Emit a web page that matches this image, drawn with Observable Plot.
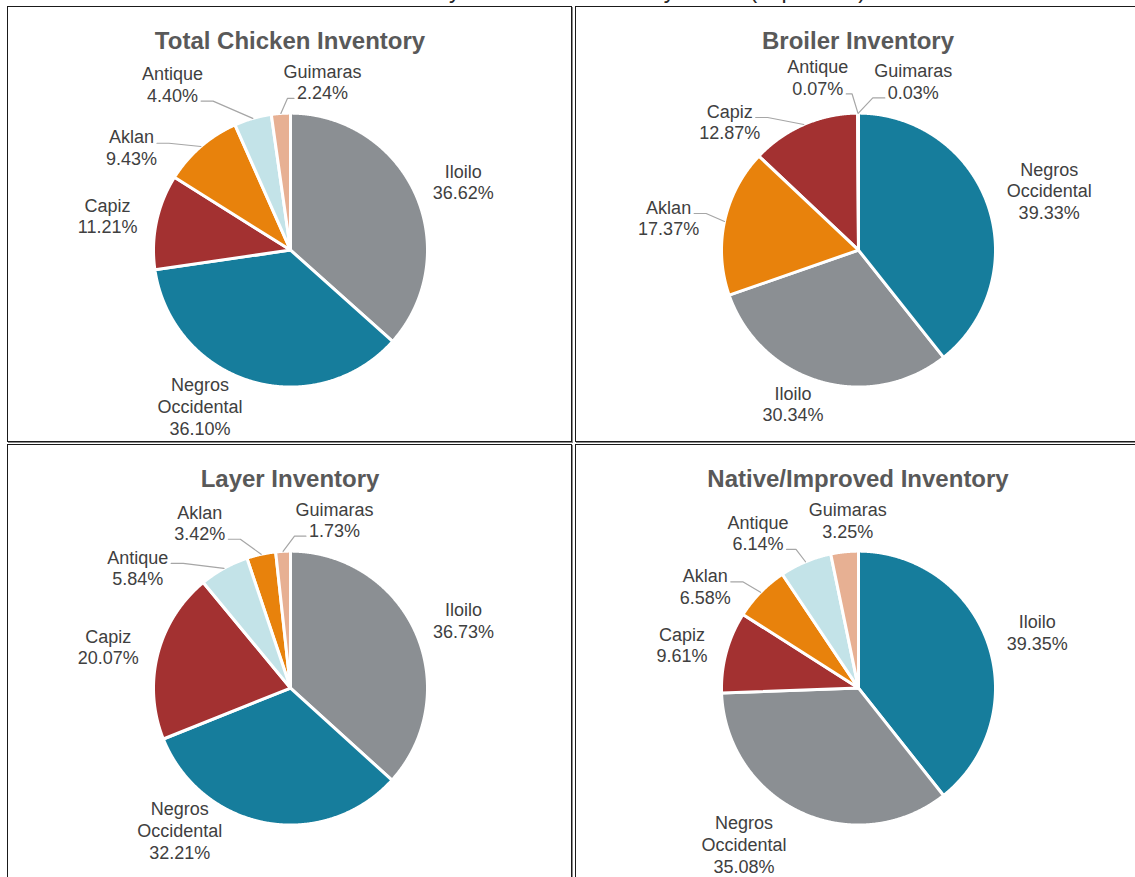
<!DOCTYPE html>
<html>
<head>
<meta charset="utf-8">
<script src="https://cdn.jsdelivr.net/npm/d3@7"></script>
<script src="https://cdn.jsdelivr.net/npm/@observablehq/plot@0.6"></script>
<style>
  html, body { margin: 0; padding: 0; background: #fff; }
  body { width: 1135px; height: 877px; overflow: hidden; position: relative;
         font-family: "Liberation Sans", Arial, sans-serif; }
  #page-title { position: absolute; top: -21px; left: 22px; width: 1135px; text-align: center;
         font-size: 23px; line-height: 23px; color: #262626; white-space: nowrap; }
  .panel { position: absolute; border: 1px solid #1a1a1a; box-shadow: 1px 1px 0 0 #8c8c8c;
           background: #fff; overflow: hidden; box-sizing: border-box; }
  .panel svg { position: absolute; left: 0; top: 0; overflow: visible; }
</style>
</head>
<body>
<div id="page-title"></div>
<div class="panel" id="p-total"   style="left:7px;   top:6px;   width:565px; height:436px;"></div>
<div class="panel" id="p-broiler" style="left:575px; top:6px;   width:600px; height:436px;"></div>
<div class="panel" id="p-layer"   style="left:7px;   top:444px; width:565px; height:500px;"></div>
<div class="panel" id="p-native"  style="left:575px; top:444px; width:600px; height:500px;"></div>
<script>
// ---------------- data ----------------
const pageTitle = "Western Visayas Chicken Inventory Share (in percent)";
const chartTitles = ["Total Chicken Inventory", "Broiler Inventory", "Layer Inventory", "Native/Improved Inventory"];
const provinces = ["Iloilo", "Negros Occidental", "Capiz", "Aklan", "Antique", "Guimaras"];
const totalShare   = [36.62, 36.10, 11.21, 9.43, 4.40, 2.24];
const broilerShare = [30.34, 39.33, 12.87, 17.37, 0.07, 0.03];
const layerShare   = [36.73, 32.21, 20.07, 3.42, 5.84, 1.73];
const nativeShare  = [39.35, 35.08, 9.61, 6.58, 6.14, 3.25];

// ---------------- styles / layout ----------------
const provinceColors = {
  "Iloilo": "#8B8F93", "Negros Occidental": "#167D9C", "Capiz": "#A33131",
  "Aklan": "#E8820C", "Antique": "#C3E3E8", "Guimaras": "#E7B093"
};
const colorOverrides = { native: { "Iloilo": "#167D9C", "Negros Occidental": "#8B8F93" } };
// label nudges (px) relative to a radial anchor at 1.35 × radius
const labelNudge = {
  total:   { "Iloilo": [4, 7],   "Negros Occidental": [-37, -21], "Capiz": [-2, 4], "Aklan": [-38, 37], "Antique": [-67, 12], "Guimaras": [45, 16] },
  broiler: { "Iloilo": [-14, -24], "Negros Occidental": [16, 1], "Capiz": [-55, 41], "Aklan": [-9, 6], "Antique": [-40, 12], "Guimaras": [55, 16] },
  layer:   { "Iloilo": [4, 7],   "Negros Occidental": [-78, -40], "Capiz": [-3, 4], "Aklan": [-51, 15], "Antique": [-63, 41], "Guimaras": [54, 16] },
  native:  { "Iloilo": [4, 5],   "Negros Occidental": [-37, -12], "Capiz": [2, 5], "Aklan": [-21, 27], "Antique": [-29, 15], "Guimaras": [8, 16] }
};
const leaderOn = {
  total: ["Aklan", "Antique", "Guimaras"],
  broiler: ["Capiz", "Aklan", "Antique", "Guimaras"],
  layer: ["Antique", "Aklan", "Guimaras"],
  native: ["Aklan", "Antique"]
};
const panels = [
  { key: "total",   title: chartTitles[0], values: totalShare,   el: "p-total" },
  { key: "broiler", title: chartTitles[1], values: broilerShare, el: "p-broiler" },
  { key: "layer",   title: chartTitles[2], values: layerShare,   el: "p-layer" },
  { key: "native",  title: chartTitles[3], values: nativeShare,  el: "p-native" }
];

const FONT = "'Liberation Sans', Arial, sans-serif";
const W = 563, H = 434, CX = 282, CY = 242.6, R = 137;
const LABEL_K = 1.35, FS = 18, LINE_H = FS * 1.2;

document.getElementById("page-title").textContent = pageTitle;

const ctx = document.createElement("canvas").getContext("2d");
ctx.font = FS + "px 'Liberation Sans'";
const tw = s => ctx.measureText(s).width;

function build(panel) {
  const rows = provinces.map((p, i) => ({ province: p, value: panel.values[i] }));
  const arcs = d3.pie().value(d => d.value)(rows);
  const wedges = [], labels = [], leaders = [];
  for (const a of arcs) {
    const name = a.data.province;
    const color = (colorOverrides[panel.key] || {})[name] || provinceColors[name];
    const n = Math.max(2, Math.ceil((a.endAngle - a.startAngle) / 0.005));
    wedges.push({ k: name, x: 0, y: 0, c: color });
    for (let i = 0; i <= n; i++) {
      const t = a.startAngle + (a.endAngle - a.startAngle) * i / n;
      wedges.push({ k: name, x: Math.sin(t), y: Math.cos(t), c: color });
    }
    wedges.push({ k: name, x: 0, y: 0, c: color });

    const mid = (a.startAngle + a.endAngle) / 2;
    const nd = labelNudge[panel.key][name];
    const lx = LABEL_K * R * Math.sin(mid) + nd[0];     // px, right
    const ly = -LABEL_K * R * Math.cos(mid) + nd[1];    // px, down
    const lines = (name === "Negros Occidental" ? ["Negros", "Occidental"] : [name])
      .concat(a.data.value.toFixed(2) + "%");
    labels.push({ x: lx / R, y: -ly / R, text: lines.join("\n") });

    if (leaderOn[panel.key].includes(name)) {
      const ex = R * Math.sin(mid), ey = -R * Math.cos(mid);
      const h = lines.length * LINE_H;
      const below = ey > ly + h / 2 - 6;
      const ay = below ? ly + h / 2 - LINE_H / 2 + 6 : ly - 4;
      const hw = tw(lines[below ? lines.length - 1 : 0]) / 2;
      const side = ex > lx ? 1 : -1;
      const ax = lx + side * (hw + 3);
      const elbow = ax + side * Math.min(12, Math.abs(ex - ax) / 2);
      leaders.push({ k: name, x: ax / R, y: -ay / R },
                   { k: name, x: elbow / R, y: -ay / R },
                   { k: name, x: ex / R, y: -ey / R });
    }
  }

  const chart = Plot.plot({
    width: W, height: H, margin: 0,
    x: { domain: [-1, 1], range: [CX - R, CX + R], axis: null },
    y: { domain: [-1, 1], range: [CY + R, CY - R], axis: null },
    color: { type: "identity" },
    style: { background: "transparent", fontFamily: FONT, overflow: "visible" },
    marks: [
      Plot.line(wedges, { x: "x", y: "y", z: "k", fill: "c", stroke: "#ffffff", strokeWidth: 3, strokeLinejoin: "round" }),
      Plot.line(leaders, { x: "x", y: "y", z: "k", stroke: "#A6A6A6", strokeWidth: 1.2 }),
      Plot.text(labels, { x: "x", y: "y", text: "text", fontSize: FS, lineHeight: 1.2, fill: "#404040", fontFamily: FONT }),
      Plot.text([panel.title], { frameAnchor: "top", lineAnchor: "middle", dy: 34, text: d => d, fontSize: 24, fontWeight: "bold", fill: "#595959", fontFamily: FONT })
    ]
  });
  document.getElementById(panel.el).appendChild(chart);
}
panels.forEach(build);
</script>
</body>
</html>
